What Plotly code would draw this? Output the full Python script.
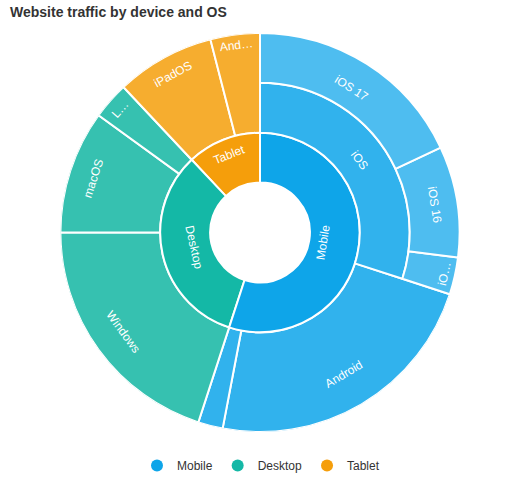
import plotly.graph_objects as go

# ---- data (clockwise order as in the reference) ----
devices = ["Mobile", "Desktop", "Tablet"]
device_values = [55, 33, 12]

os_labels = ["iOS", "Android", "Other", "Windows", "macOS", "Linux", "iPadOS", "Android"]
os_parents = ["Mobile", "Mobile", "Mobile", "Desktop", "Desktop", "Desktop", "Tablet", "Tablet"]
os_values = [30, 23, 2, 20, 10, 3, 8, 4]

ver_labels = ["iOS 17", "iOS 16", "iOS 15"]
ver_parent = "iOS"
ver_values = [18, 9, 3]

# text shown in the chart (the reference truncates narrow slices);
# non-breaking spaces keep plotly from moving the label to the bottom of the arc
NB = "\u00a0"
shown_text = {
    "Mobile": NB * 6 + "Mobile" + NB * 6,
    "Mobile/Android": NB * 7 + "Android" + NB * 7,
    "Mobile/Other": "",
    "Desktop/Linux": "L…",
    "Tablet/Android": "And…",
    "Mobile/iOS/iOS 15": "iO…",
}

# ---- styles ----
base_col = {"Mobile": "#0ea5e9", "Desktop": "#14b8a6", "Tablet": "#f59e0b"}
lvl2_col = {"Mobile": "#31b2ed", "Desktop": "#36c1b0", "Tablet": "#f6ad2f"}
lvl3_col = {"Mobile": "#4ebdf0", "Desktop": "#36c1b0", "Tablet": "#f6ad2f"}
CLEAR = "rgba(0,0,0,0)"
FONT = "Liberation Sans, Arial, sans-serif"

total = sum(device_values)
ids, labels, parents, values, colors, texts, lw = [], [], [], [], [], [], []


def add(i, l, p, v, c, t, w):
    ids.append(i); labels.append(l); parents.append(p); values.append(v)
    colors.append(c); texts.append(t); lw.append(w)


add("root", "", "", total, "#ffffff", "", 0)
# plotly sunburst runs counter-clockwise -> add in reverse order
for d, dv in reversed(list(zip(devices, device_values))):
    add(d, d, "root", dv, base_col[d], shown_text.get(d, d), 2)
for o, p, v in reversed(list(zip(os_labels, os_parents, os_values))):
    oid = f"{p}/{o}"
    if o == ver_parent and p == "Mobile":
        add(oid, o, p, v, lvl2_col[p], shown_text.get(oid, o), 2)
    else:
        # leaf OS slice: drawn by the barpolar underlay (reaches the outer edge)
        add(oid, o, p, v, CLEAR, "", 0)
        add(oid + "/ext", o, oid, v, CLEAR, shown_text.get(oid, o), 0)
for vl, vv in reversed(list(zip(ver_labels, ver_values))):
    vid = f"Mobile/{ver_parent}/{vl}"
    add(vid, vl, f"Mobile/{ver_parent}", vv, lvl3_col["Mobile"], shown_text.get(vid, vl), 2)

# barpolar underlay for leaf OS slices spanning the two outer rings
bar_theta, bar_width, bar_col = [], [], []
cum = 0.0
for o, p, v in zip(os_labels, os_parents, os_values):
    if not (o == ver_parent and p == "Mobile"):
        bar_theta.append(360.0 * (cum + v / 2) / total)
        bar_width.append(360.0 * v / total)
        bar_col.append(lvl2_col[p])
    cum += v

CX, CY, R = 260, 233, 200
dom = dict(x=[(CX - R) / 520, (CX + R) / 520], y=[1 - (CY + R) / 480, 1 - (CY - R) / 480])

fig = go.Figure()
fig.add_trace(go.Barpolar(
    theta=bar_theta, width=bar_width, r=[2] * len(bar_theta), base=[2] * len(bar_theta),
    marker=dict(color=bar_col, line=dict(color="#ffffff", width=2)),
    hoverinfo="skip", showlegend=False,
))
fig.add_trace(go.Sunburst(
    ids=ids, labels=labels, parents=parents, values=values,
    branchvalues="total", sort=False, rotation=90,
    text=texts, texttemplate="%{text}",
    insidetextorientation="tangential",
    textfont=dict(family=FONT, size=12, color="#ffffff"),
    marker=dict(colors=colors, line=dict(color="#ffffff", width=lw)),
    leaf=dict(opacity=1),
    hoverinfo="skip",
    domain=dom,
))

for d in devices:
    fig.add_trace(go.Scatter(
        x=[None], y=[None], mode="markers", name=d,
        marker=dict(symbol="circle", size=13, color=base_col[d]),
        showlegend=True,
    ))

fig.update_layout(
    width=520, height=480,
    margin=dict(l=0, r=0, t=0, b=0),
    paper_bgcolor="#ffffff", plot_bgcolor="#ffffff",
    polar=dict(
        domain=dom, hole=0, bgcolor=CLEAR,
        radialaxis=dict(range=[0, 4], visible=False, showgrid=False, showline=False),
        angularaxis=dict(direction="clockwise", rotation=90, visible=False,
                         showgrid=False, showline=False),
    ),
    title=dict(text="<b>Website traffic by device and OS</b>",
               xref="container", yref="container",
               x=10 / 520, xanchor="left", y=1 - 12 / 480, yanchor="middle",
               font=dict(family=FONT, size=14, color="#333333")),
    showlegend=True,
    legend=dict(orientation="h", x=261 / 520, xanchor="center",
                y=1 - 466 / 480, yanchor="middle",
                font=dict(family=FONT, size=12, color="#333333"),
                itemsizing="constant"),
    xaxis=dict(visible=False), yaxis=dict(visible=False),
)

fig.write_html("out.html", config={"displayModeBar": False},
               post_script="document.body.style.margin='0px';")
